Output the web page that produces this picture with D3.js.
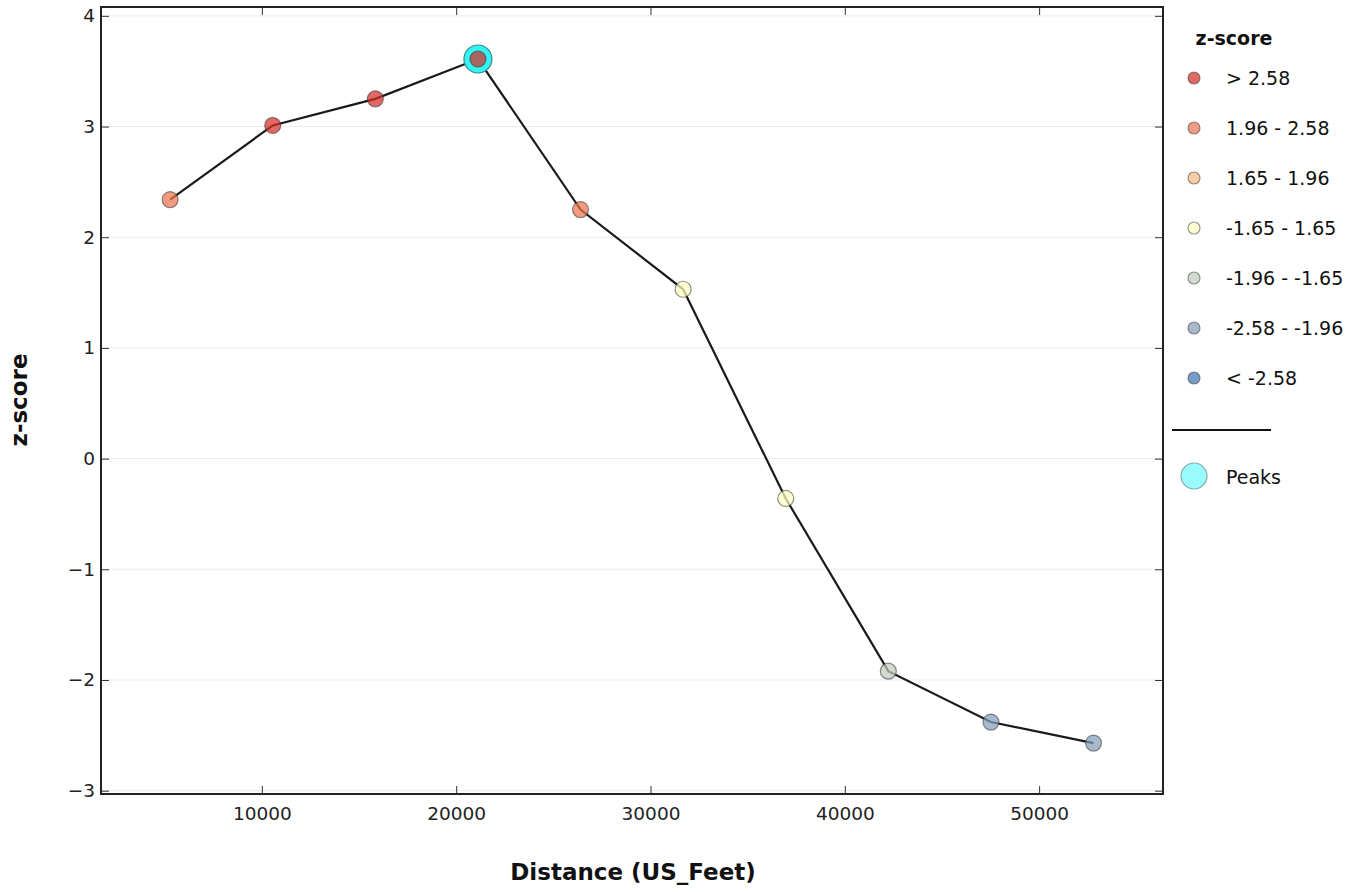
<!DOCTYPE html>
<html><head><meta charset="utf-8">
<script src="https://cdn.jsdelivr.net/npm/d3@7"></script>
<style>body{margin:0;background:#fff;} text{font-family:"DejaVu Sans",sans-serif;}</style>
</head><body>
<svg id="c" width="1363" height="892"></svg>
<script>
const distances = [5280, 10560, 15840, 21120, 26400, 31680, 36960, 42240, 47520, 52800];
const zscores = [2.34, 3.01, 3.25, 3.61, 2.25, 1.53, -0.36, -1.92, -2.38, -2.57];
const peakIndex = [3];
const binLabels = ["> 2.58", "1.96 - 2.58", "1.65 - 1.96", "-1.65 - 1.65", "-1.96 - -1.65", "-2.58 - -1.96", "< -2.58"];
const binColors = ["#d62f27", "#ed7551", "#fab984", "#ffffbf", "#c0ccbe", "#849eba", "#4575b5"];
const xTicks = [10000, 20000, 30000, 40000, 50000];
const yTicks = [-3, -2, -1, 0, 1, 2, 3, 4];

function binOf(z){
  if (z > 2.58) return 0;
  if (z > 1.96) return 1;
  if (z > 1.65) return 2;
  if (z >= -1.65) return 3;
  if (z >= -1.96) return 4;
  if (z >= -2.58) return 5;
  return 6;
}

const svg = d3.select("#c");
const L = 101, R = 1163, T = 7, B = 794;
const x = d3.scaleLinear().domain([1722, 56375]).range([L, R]);
const y = d3.scaleLinear().domain([-3.03, 4.08]).range([B, T]);

// grid
svg.append("g").selectAll("line").data(yTicks).join("line")
  .attr("x1", L).attr("x2", R).attr("y1", d=>y(d)).attr("y2", d=>y(d))
  .attr("stroke", "#ebebeb").attr("stroke-width", 1);

// axes
const fs = 18.5;
const ax = svg.append("g").attr("transform", `translate(0,${B})`)
  .call(d3.axisBottom(x).tickValues(xTicks).tickFormat(d3.format("d")).tickSizeInner(-8).tickSizeOuter(0).tickPadding(13));
const axT = svg.append("g").attr("transform", `translate(0,${T})`)
  .call(d3.axisTop(x).tickValues(xTicks).tickFormat("").tickSizeInner(-8).tickSizeOuter(0));
const ay = svg.append("g").attr("transform", `translate(${L},0)`)
  .call(d3.axisLeft(y).tickValues(yTicks).tickFormat(d=>d<0?"\u2212"+Math.abs(d):d).tickSizeInner(-8).tickSizeOuter(0).tickPadding(6));
const ayR = svg.append("g").attr("transform", `translate(${R},0)`)
  .call(d3.axisRight(y).tickValues(yTicks).tickFormat("").tickSizeInner(-8).tickSizeOuter(0));
[ax, axT, ay, ayR].forEach(g=>{
  g.select(".domain").remove();
  g.selectAll(".tick line").attr("stroke", "#333");
  g.selectAll("text").attr("font-size", fs).attr("fill", "#222").style("font-family","DejaVu Sans");
});
ax.selectAll("text").attr("dy", "0.71em");

svg.append("rect").attr("x", L).attr("y", T).attr("width", R-L).attr("height", B-T)
  .attr("fill", "none").attr("stroke", "#222").attr("stroke-width", 2);

// line
const pts = distances.map((d,i)=>({d, z: zscores[i], i}));
svg.append("path").datum(pts)
  .attr("d", d3.line().x(p=>x(p.d)).y(p=>y(p.z)))
  .attr("fill", "none").attr("stroke", "#1a1a1a").attr("stroke-width", 2.2);

// peaks
svg.append("g").selectAll("circle").data(peakIndex.map(i=>pts[i])).join("circle")
  .attr("cx", p=>x(p.d)).attr("cy", p=>y(p.z)).attr("r", 14)
  .attr("fill", "#33f3f3").attr("stroke", "#3a8a8a").attr("stroke-width", 1.2);

// points
svg.append("g").selectAll("circle").data(pts).join("circle")
  .attr("cx", p=>x(p.d)).attr("cy", p=>y(p.z)).attr("r", 8)
  .attr("fill", p=>binColors[binOf(p.z)]).attr("fill-opacity", 0.72)
  .attr("stroke", "#333").attr("stroke-opacity", 0.55).attr("stroke-width", 1.2);

// axis titles
svg.append("text").attr("x", 633).attr("y", 880).attr("text-anchor", "middle")
  .attr("font-size", 23).attr("font-weight", "bold").attr("fill", "#111").text("Distance (US_Feet)");
svg.append("text").attr("transform", "translate(27,400) rotate(-90)").attr("text-anchor", "middle")
  .attr("font-size", 23).attr("font-weight", "bold").attr("fill", "#111").text("z-score");

// legend
const lg = svg.append("g");
lg.append("text").attr("x", 1234).attr("y", 45).attr("text-anchor", "middle")
  .attr("font-size", 19).attr("font-weight", "bold").attr("fill", "#111").text("z-score");
const items = lg.selectAll("g.item").data(binLabels).join("g").attr("class","item")
  .attr("transform", (d,i)=>`translate(0,${78 + i*50})`);
items.append("circle").attr("cx", 1194).attr("cy", 0).attr("r", 6)
  .attr("fill", (d,i)=>binColors[i]).attr("fill-opacity", 0.72)
  .attr("stroke", "#333").attr("stroke-opacity", 0.5).attr("stroke-width", 1.2);
items.append("text").attr("x", 1226).attr("y", 0).attr("dy", "0.35em")
  .attr("font-size", 19).attr("fill", "#111").text(d=>d);
lg.append("line").attr("x1", 1172).attr("x2", 1271).attr("y1", 430).attr("y2", 430)
  .attr("stroke", "#111").attr("stroke-width", 2);
lg.append("circle").attr("cx", 1194).attr("cy", 476).attr("r", 13)
  .attr("fill", "#99fbfb").attr("stroke", "#8aa").attr("stroke-width", 1.2);
lg.append("text").attr("x", 1226).attr("y", 477).attr("dy", "0.35em")
  .attr("font-size", 19).attr("fill", "#111").text("Peaks");
</script>
</body></html>
